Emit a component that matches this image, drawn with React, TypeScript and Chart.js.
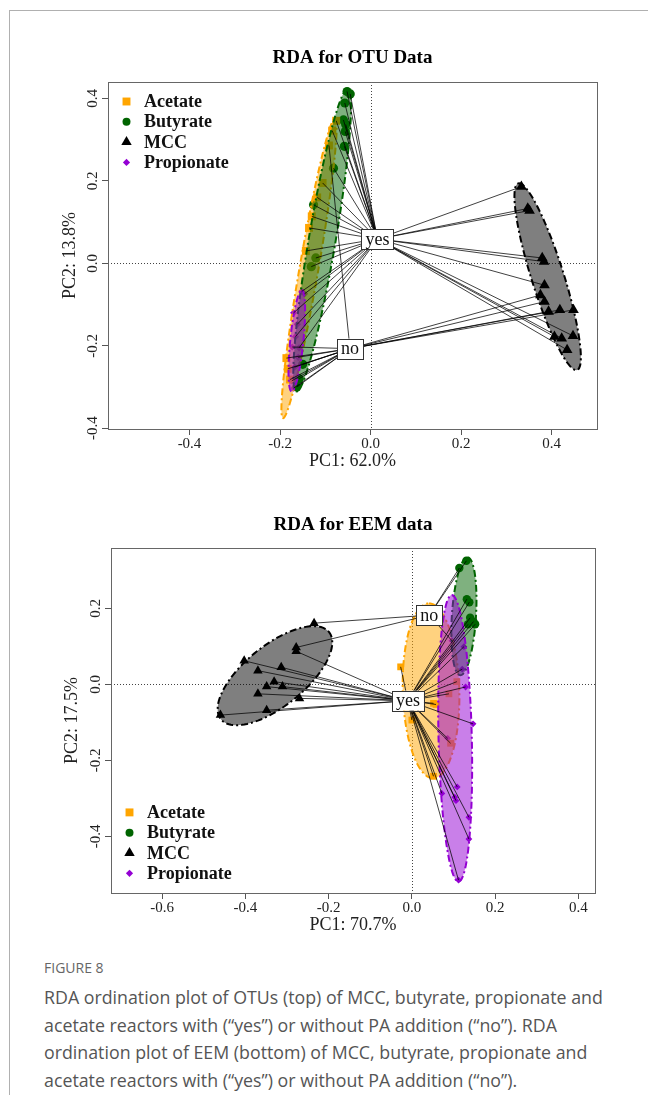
import React, { useEffect, useRef } from "react";
import { Chart, registerables } from "chart.js";
Chart.register(...registerables);

const SERIF = '"Liberation Serif", "Times New Roman", Times, serif';

const groupNames = ["Acetate", "Butyrate", "MCC", "Propionate"];
const groupColors = ["#FFA500", "#006400", "#000000", "#9400D3"];
const groupFills = ["rgba(255,165,0,0.5)", "rgba(0,100,0,0.5)", "rgba(0,0,0,0.5)", "rgba(148,0,211,0.5)"];
const groupShapes = ["rect", "circle", "triangle", "rectRot"];

type P = [number, number, string];

// ---------- RDA for OTU data (top) ----------
const otuAcetate: P[] = [
  [-0.076, 0.346, "yes"], [-0.085, 0.322, "yes"], [-0.092, 0.286, "no"], [-0.106, 0.195, "yes"],
  [-0.118, 0.16, "yes"], [-0.13, 0.114, "yes"], [-0.136, 0.086, "yes"], [-0.143, 0.03, "yes"],
  [-0.186, -0.23, "no"], [-0.183, -0.256, "no"], [-0.178, -0.282, "no"],
];
const otuButyrate: P[] = [
  [-0.052, 0.417, "yes"], [-0.045, 0.411, "yes"], [-0.057, 0.389, "yes"], [-0.06, 0.348, "yes"],
  [-0.055, 0.337, "yes"], [-0.056, 0.32, "yes"], [-0.058, 0.284, "yes"], [-0.082, 0.231, "yes"],
  [-0.126, 0.142, "yes"], [-0.121, 0.013, "yes"], [-0.131, -0.008, "yes"], [-0.163, -0.3, "no"],
  [-0.158, -0.28, "no"], [-0.15, -0.245, "no"],
];
const otuMCC: P[] = [
  [0.333, 0.186, "yes"], [0.347, 0.133, "yes"], [0.351, 0.128, "yes"], [0.379, 0.013, "yes"],
  [0.383, 0.004, "yes"], [0.384, -0.053, "yes"], [0.375, -0.077, "no"], [0.384, -0.093, "no"],
  [0.393, -0.117, "no"], [0.418, -0.113, "no"], [0.448, -0.113, "no"], [0.406, -0.178, "yes"],
  [0.422, -0.182, "yes"], [0.447, -0.176, "yes"], [0.434, -0.21, "yes"],
];
const otuPropionate: P[] = [
  [-0.152, -0.068, "yes"], [-0.146, -0.074, "yes"], [-0.17, -0.12, "yes"], [-0.162, -0.148, "yes"],
  [-0.166, -0.178, "yes"], [-0.158, -0.205, "yes"], [-0.173, -0.203, "no"], [-0.16, -0.228, "no"],
  [-0.168, -0.252, "no"], [-0.174, -0.285, "no"], [-0.17, -0.303, "no"],
];
const otuYes = [0.015, 0.059];
const otuNo = [-0.0455, -0.207];
// ellipse: centre x, centre y, axis1 dx, axis1 dy, axis2 dx, axis2 dy (data units)
const otuEllipseAcetate = [-0.136, -0.012, 0.057, 0.3638, 0.0218, 0.0041];
const otuEllipseButyrate = [-0.107, 0.0565, 0.0558, 0.3675, 0.031, 0.0057];
const otuEllipseMCC = [0.391, -0.0325, -0.065, 0.2265, 0.034, 0.0118];
const otuEllipsePropionate = [-0.163, -0.188, 0.011, 0.123, 0.0147, 0.0007];
const otuXTicks = [-0.4, -0.2, 0, 0.2, 0.4];
const otuYTicks = [-0.4, -0.2, 0, 0.2, 0.4];

// ---------- RDA for EEM data (bottom) ----------
const eemAcetate: P[] = [
  [-0.027, 0.046, "yes"], [0.052, -0.05, "yes"], [0.058, -0.053, "yes"], [0.0, -0.094, "yes"],
  [0.052, -0.242, "yes"], [0.108, 0.007, "yes"], [0.089, -0.025, "yes"], [0.093, -0.155, "yes"],
];
const eemButyrate: P[] = [
  [0.131, 0.325, "no"], [0.114, 0.306, "no"], [0.132, 0.224, "yes"], [0.138, 0.216, "yes"],
  [0.14, 0.175, "yes"], [0.148, 0.165, "yes"], [0.152, 0.158, "yes"], [0.135, 0.158, "yes"],
];
const eemMCC: P[] = [
  [-0.235, 0.161, "no"], [-0.278, 0.097, "no"], [-0.278, 0.087, "yes"], [-0.403, 0.062, "yes"],
  [-0.37, 0.036, "yes"], [-0.314, 0.045, "yes"], [-0.331, 0.007, "yes"], [-0.349, -0.006, "yes"],
  [-0.311, -0.006, "yes"], [-0.37, -0.025, "yes"], [-0.27, -0.037, "yes"], [-0.349, -0.068, "yes"],
  [-0.46, -0.081, "yes"],
];
const eemPropionate: P[] = [
  [0.096, 0.115, "no"], [0.125, 0.099, "yes"], [0.121, 0.04, "yes"], [0.129, -0.007, "yes"],
  [0.147, -0.104, "yes"], [0.086, -0.142, "yes"], [0.109, -0.27, "yes"], [0.072, -0.287, "yes"],
  [0.103, -0.297, "yes"], [0.106, -0.306, "yes"], [0.137, -0.35, "yes"], [0.137, -0.407, "yes"],
  [0.112, -0.515, "yes"],
];
const eemYes = [-0.0095, -0.043];
const eemNo = [0.042, 0.182];
const eemEllipseAcetate = [0.046, -0.017, -0.005, 0.23, 0.068, 0.0];
const eemEllipseButyrate = [0.125, 0.179, 0.0085, 0.155, 0.029, 0.0];
const eemEllipseMCC = [-0.329, 0.0228, 0.128, 0.117, 0.0508, -0.0574];
const eemEllipsePropionate = [0.104, -0.142, -0.008, 0.377, 0.04, 0.0];
const eemXTicks = [-0.6, -0.4, -0.2, 0, 0.2, 0.4];
const eemYTicks = [-0.4, -0.2, 0, 0.2];

interface Spec {
  id: string;
  title: string;
  xTitle: string;
  yTitle: string;
  groups: P[][];
  ellipses: number[][];
  yes: number[];
  no: number[];
  xMin: number; xMax: number; yMin: number; yMax: number;
  xTicks: number[]; yTicks: number[];
  padL: number; padR: number;
  yAxisW: number; xAxisH: number;
  titlePad: { top: number; bottom: number };
  xTitlePadB: number;
  legend: "top" | "bottom";
  radii: number[];
  legendRadii: number[];
}

function drawSym(ctx: CanvasRenderingContext2D, shape: string, x: number, y: number, r: number, color: string) {
  ctx.fillStyle = color;
  ctx.beginPath();
  if (shape === "rect") {
    const s = r * Math.SQRT1_2;
    ctx.rect(x - s, y - s, 2 * s, 2 * s);
  } else if (shape === "circle") {
    ctx.arc(x, y, r, 0, Math.PI * 2);
  } else if (shape === "triangle") {
    for (let k = 0; k < 3; k++) {
      const a = (k * 2 * Math.PI) / 3;
      const px = x + Math.sin(a) * r;
      const py = y - Math.cos(a) * r;
      if (k === 0) ctx.moveTo(px, py);
      else ctx.lineTo(px, py);
    }
  } else {
    ctx.moveTo(x, y - r);
    ctx.lineTo(x + r, y);
    ctx.lineTo(x, y + r);
    ctx.lineTo(x - r, y);
  }
  ctx.closePath();
  ctx.fill();
}

function buildConfig(s: Spec): any {
  const pointSets = s.groups.map((pts, i) => ({
    type: "scatter",
    label: groupNames[i],
    data: pts.map((p) => ({ x: p[0], y: p[1] })),
    pointStyle: groupShapes[i],
    pointRadius: s.radii[i],
    pointBackgroundColor: groupColors[i],
    pointBorderColor: groupColors[i],
    pointBorderWidth: 0,
    showLine: false,
    order: 10,
  }));
  const spider = (which: string, c: number[]) => {
    const data: any[] = [];
    s.groups.forEach((pts) =>
      pts.forEach((p) => {
        if (p[2] === which) {
          data.push({ x: c[0], y: c[1] }, { x: p[0], y: p[1] }, { x: NaN, y: NaN });
        }
      })
    );
    return {
      type: "scatter",
      label: "spider-" + which,
      data,
      showLine: true,
      spanGaps: false,
      borderColor: "#000",
      borderWidth: 0.75,
      pointRadius: 0,
      order: which === "no" ? 5 : 4,
    };
  };

  const plugin = {
    id: "rdaDecor" + s.id,
    beforeDatasetsDraw(chart: any) {
      const { ctx, chartArea: a, scales } = chart;
      const px = Math.round(scales.x.getPixelForValue(0)) + 0.5;
      const py = Math.round(scales.y.getPixelForValue(0)) + 0.5;
      ctx.save();
      ctx.strokeStyle = "#444";
      ctx.lineWidth = 1;
      ctx.setLineDash([1, 2]);
      ctx.beginPath();
      ctx.moveTo(px, a.top);
      ctx.lineTo(px, a.bottom);
      ctx.moveTo(a.left, py);
      ctx.lineTo(a.right, py);
      ctx.stroke();
      ctx.restore();
    },
    beforeDatasetDraw(chart: any, args: any) {
      if (chart.data.datasets[args.index].label !== "spider-no") return;
      const { ctx, chartArea: a, scales } = chart;
      ctx.save();
      ctx.beginPath();
      ctx.rect(a.left, a.top, a.right - a.left, a.bottom - a.top);
      ctx.clip();
      s.ellipses.forEach((e, i) => {
        ctx.beginPath();
        const n = 120;
        for (let k = 0; k <= n; k++) {
          const t = (k / n) * Math.PI * 2;
          const dx = e[0] + e[2] * Math.cos(t) + e[4] * Math.sin(t);
          const dy = e[1] + e[3] * Math.cos(t) + e[5] * Math.sin(t);
          const X = scales.x.getPixelForValue(dx);
          const Y = scales.y.getPixelForValue(dy);
          if (k === 0) ctx.moveTo(X, Y);
          else ctx.lineTo(X, Y);
        }
        ctx.closePath();
        ctx.fillStyle = groupFills[i];
        ctx.fill();
        ctx.setLineDash([7, 3, 2, 3]);
        ctx.lineWidth = 2;
        ctx.strokeStyle = groupColors[i];
        ctx.stroke();
      });
      ctx.restore();
    },
    afterDatasetsDraw(chart: any) {
      const { ctx, chartArea: a, scales } = chart;
      ctx.save();
      // centroid labels
      ctx.font = `18px ${SERIF}`;
      ctx.textAlign = "center";
      ctx.textBaseline = "middle";
      const lab = (t: string, c: number[]) => {
        const X = scales.x.getPixelForValue(c[0]);
        const Y = scales.y.getPixelForValue(c[1]);
        const w = ctx.measureText(t).width + 8;
        const h = 20;
        ctx.fillStyle = "#fff";
        ctx.fillRect(X - w / 2, Y - h / 2, w, h);
        ctx.strokeStyle = "#333";
        ctx.lineWidth = 1;
        ctx.setLineDash([]);
        ctx.strokeRect(Math.round(X - w / 2) + 0.5, Math.round(Y - h / 2) + 0.5, Math.round(w), h);
        ctx.fillStyle = "#111";
        ctx.fillText(t, X, Y + 1);
      };
      lab("yes", s.yes);
      lab("no", s.no);
      // legend
      ctx.font = `bold 18px ${SERIF}`;
      ctx.textAlign = "left";
      const step = 20.3;
      const y0 = s.legend === "top" ? a.top + 19.5 : a.bottom - 19.7 - 3 * step;
      groupNames.forEach((g, i) => {
        const yy = y0 + i * step;
        drawSym(ctx, groupShapes[i], a.left + 18.5, yy, s.legendRadii[i], groupColors[i]);
        ctx.fillStyle = "#111";
        ctx.fillText(g, a.left + 36, yy + 1);
      });
      // plot box
      ctx.strokeStyle = "#666";
      ctx.lineWidth = 1;
      ctx.strokeRect(Math.round(a.left) + 0.5, Math.round(a.top) + 0.5, Math.round(a.right - a.left), Math.round(a.bottom - a.top));
      ctx.restore();
    },
  };

  const tickFont = { family: SERIF, size: 15 };
  const titleFont = { family: SERIF, size: 18 };
  return {
    type: "scatter",
    data: { datasets: [...pointSets, spider("no", s.no), spider("yes", s.yes)] },
    options: {
      responsive: false,
      animation: false,
      events: [],
      layout: { padding: { left: s.padL, right: s.padR, top: 0, bottom: 0 } },
      plugins: {
        legend: { display: false },
        tooltip: { enabled: false },
        title: {
          display: true,
          text: s.title,
          fullSize: false,
          color: "#000",
          font: { family: SERIF, size: 19, weight: "bold", lineHeight: 1.2 },
          padding: s.titlePad,
        },
      },
      scales: {
        x: {
          type: "linear",
          min: s.xMin,
          max: s.xMax,
          afterBuildTicks: (sc: any) => {
            sc.ticks = s.xTicks.map((v) => ({ value: v }));
          },
          afterFit: (sc: any) => {
            sc.height = s.xAxisH;
          },
          grid: { drawOnChartArea: false, drawTicks: true, tickLength: 6, color: "#555" },
          border: { display: true, color: "#666" },
          ticks: {
            padding: 0,
            minRotation: 0,
            maxRotation: 0,
            color: "#222",
            font: tickFont,
            callback: (v: any) => Number(v).toFixed(1),
          },
          title: { display: true, text: s.xTitle, color: "#222", font: titleFont, padding: { top: 0, bottom: s.xTitlePadB } },
        },
        y: {
          type: "linear",
          min: s.yMin,
          max: s.yMax,
          afterBuildTicks: (sc: any) => {
            sc.ticks = s.yTicks.map((v) => ({ value: v }));
          },
          afterFit: (sc: any) => {
            sc.width = s.yAxisW;
          },
          grid: { drawOnChartArea: false, drawTicks: true, tickLength: 6, color: "#555" },
          border: { display: true, color: "#666" },
          ticks: {
            minRotation: 90,
            maxRotation: 90,
            crossAlign: "center",
            padding: -3,
            color: "#222",
            font: tickFont,
            callback: (v: any) => Number(v).toFixed(1),
          },
          title: { display: true, text: s.yTitle, color: "#222", font: titleFont, padding: { top: 0, bottom: 0 } },
        },
      },
    },
    plugins: [plugin],
  };
}

const otuSpec: Spec = {
  id: "otu",
  title: "RDA for OTU Data",
  xTitle: "PC1: 62.0%",
  yTitle: "PC2: 13.8%",
  groups: [otuAcetate, otuButyrate, otuMCC, otuPropionate],
  ellipses: [otuEllipseAcetate, otuEllipseButyrate, otuEllipseMCC, otuEllipsePropionate],
  yes: otuYes,
  no: otuNo,
  xMin: -0.58, xMax: 0.5, yMin: -0.402, yMax: 0.44,
  xTicks: otuXTicks, yTicks: otuYTicks,
  padL: 59, padR: 51, yAxisW: 49, xAxisH: 51,
  titlePad: { top: 46.6, bottom: 12.6 },
  xTitlePadB: 7.5,
  legend: "top",
  radii: [5.6, 4.6, 6.2, 3.6],
  legendRadii: [5.6, 4.0, 6.0, 3.6],
};

const eemSpec: Spec = {
  id: "eem",
  title: "RDA for EEM data",
  xTitle: "PC1: 70.7%",
  yTitle: "PC2: 17.5%",
  groups: [eemAcetate, eemButyrate, eemMCC, eemPropionate],
  ellipses: [eemEllipseAcetate, eemEllipseButyrate, eemEllipseMCC, eemEllipsePropionate],
  yes: eemYes,
  no: eemNo,
  xMin: -0.723, xMax: 0.44, yMin: -0.549, yMax: 0.3587,
  xTicks: eemXTicks, yTicks: eemYTicks,
  padL: 61, padR: 53, yAxisW: 50, xAxisH: 57,
  titlePad: { top: 33.6, bottom: 11.6 },
  xTitlePadB: 14.2,
  legend: "bottom",
  radii: [4.8, 4.2, 5.5, 3.4],
  legendRadii: [5.6, 4.0, 6.0, 3.6],
};

function RdaChart({ spec, top, height }: { spec: Spec; top: number; height: number }) {
  const ref = useRef<HTMLCanvasElement | null>(null);
  useEffect(() => {
    if (!ref.current) return;
    const chart = new Chart(ref.current, buildConfig(spec));
    return () => chart.destroy();
  }, [spec]);
  return (
    <canvas
      ref={ref}
      width={648}
      height={height}
      style={{ position: "absolute", left: 0, top, width: 648, height }}
    />
  );
}

export default function App() {
  return (
    <div style={{ position: "absolute", left: 0, top: 0, width: 648, height: 1095, background: "#fff", overflow: "hidden" }}>
      <div
        style={{
          position: "absolute",
          left: 9,
          top: 10,
          right: 0,
          bottom: 0,
          borderTop: "1px solid #b0b0b0",
          borderLeft: "1px solid #b0b0b0",
        }}
      />
      <RdaChart spec={otuSpec} top={0} height={480} />
      <RdaChart spec={eemSpec} top={480} height={470} />
      <div
        style={{
          position: "absolute",
          left: 44,
          top: 958,
          fontFamily: '"Open Sans", sans-serif',
          fontSize: 14,
          lineHeight: "20px",
          color: "#666",
        }}
      >
        FIGURE 8
      </div>
      <div
        style={{
          position: "absolute",
          left: 44,
          top: 984,
          width: 600,
          fontFamily: '"Open Sans", sans-serif',
          fontSize: 17.8,
          lineHeight: "27.7px",
          color: "#555",
          whiteSpace: "nowrap",
        }}
      >
        RDA ordination plot of OTUs (top) of MCC, butyrate, propionate and
        <br />
        acetate reactors with (“yes”) or without PA addition (“no”). RDA
        <br />
        ordination plot of EEM (bottom) of MCC, butyrate, propionate and
        <br />
        acetate reactors with (“yes”) or without PA addition (“no”).
      </div>
    </div>
  );
}
